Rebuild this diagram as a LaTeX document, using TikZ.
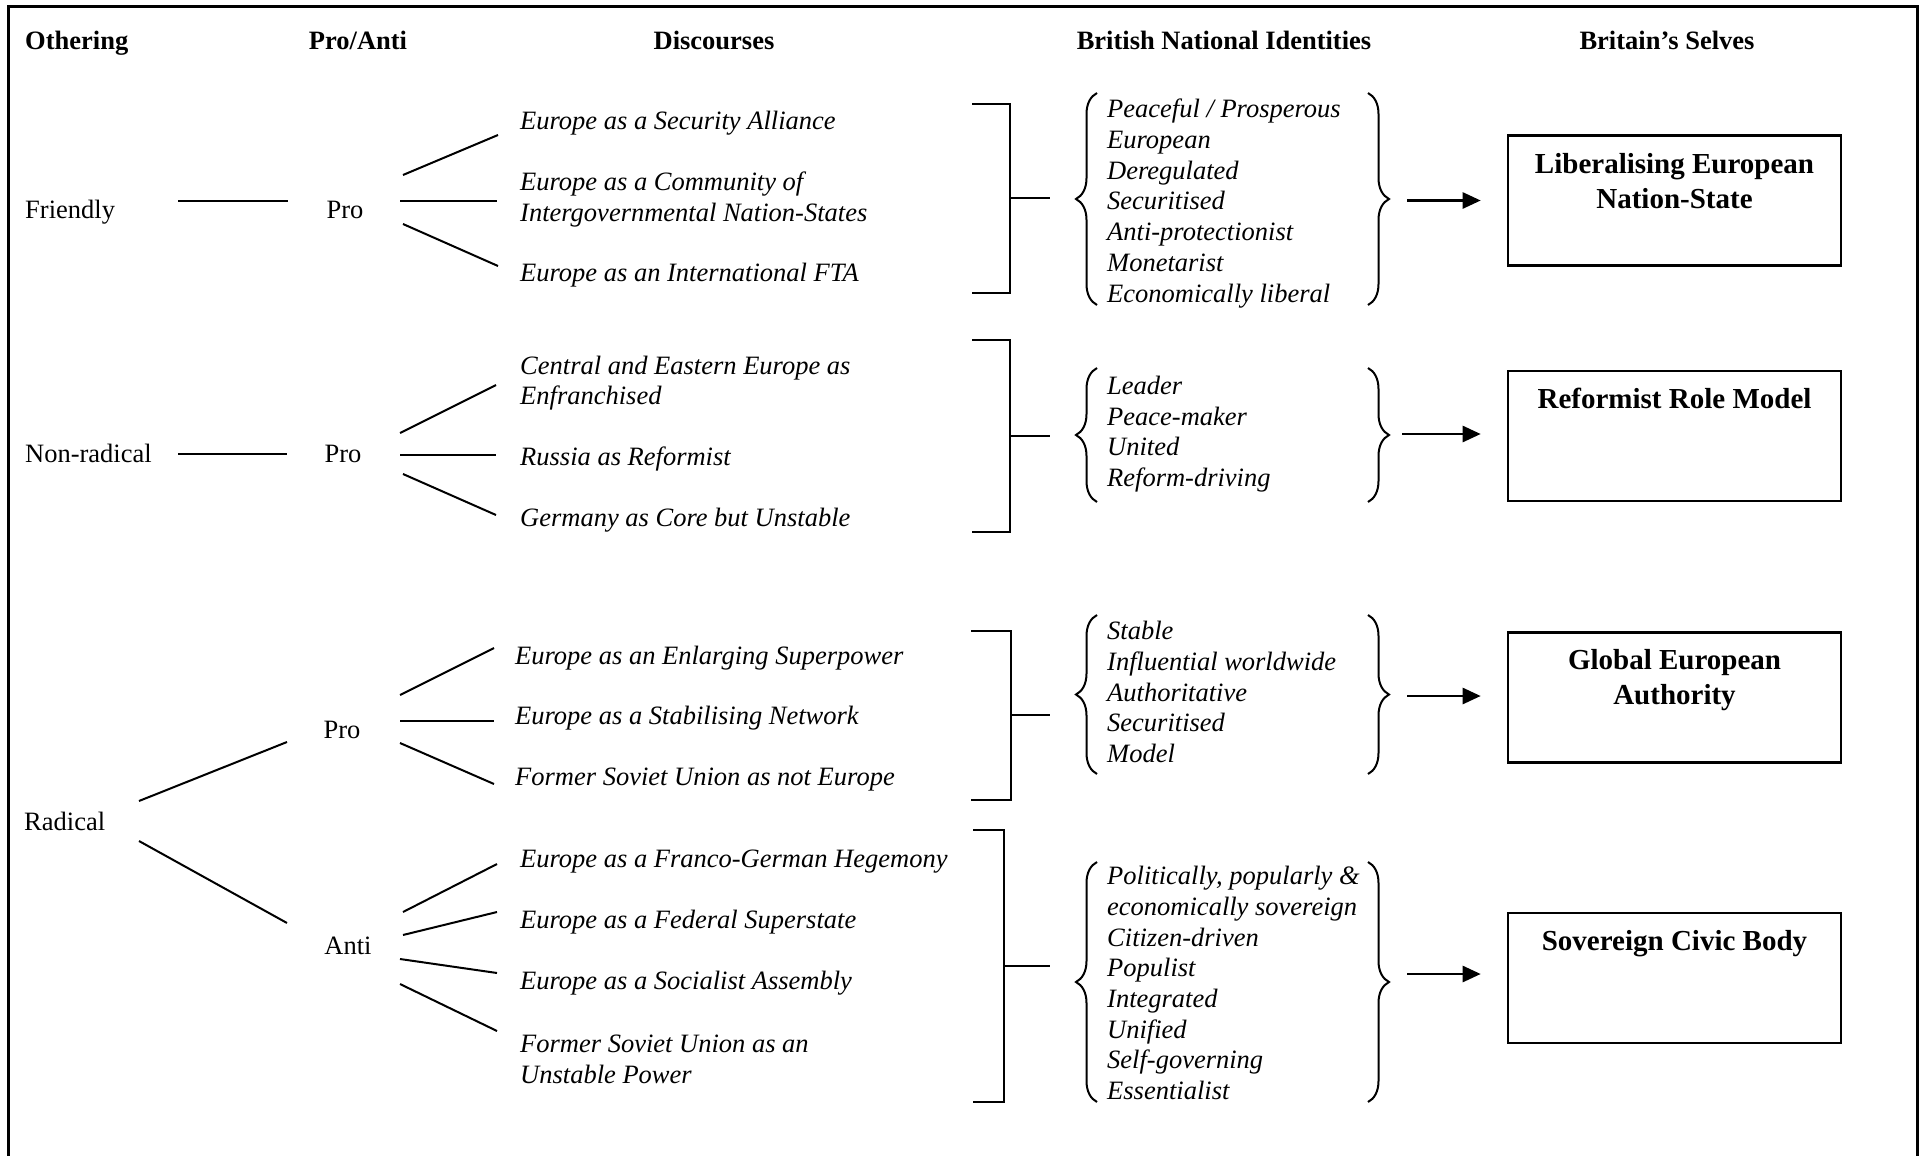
\documentclass[tikz,border=0pt]{standalone}
\usepackage{fontspec}
\setmainfont{Liberation Serif}
\usetikzlibrary{arrows.meta,decorations.pathreplacing}
\newcommand\txtsize{\fontsize{26.5pt}{30.7pt}\selectfont}
\newcommand\selfsize{\fontsize{29pt}{35pt}\selectfont}
\begin{document}
\begin{tikzpicture}[x=1pt,y=-1pt,
  frame/.style={line width=3pt},
  hdr/.style={font=\bfseries\txtsize, inner sep=0},
  lbl/.style={font=\txtsize, inner sep=0},
  disc/.style={font=\itshape\txtsize, inner sep=0, anchor=west, align=left},
  idl/.style={font=\itshape\txtsize, inner sep=0, anchor=west, align=left},
  selfbox/.style={draw, line width=2.6pt, minimum width=333pt, minimum height=130pt, inner sep=0},
  selftext/.style={font=\bfseries\selfsize, inner sep=0, anchor=north, align=center},
  link/.style={line width=2pt},
  bracket/.style={line width=2.3pt},
  cbrace/.style={decorate, decoration={brace, amplitude=21pt}, line width=2pt},
  arr/.style={line width=2.6pt, -{Triangle[length=18pt,width=16pt]}, shorten >=26pt}]
\useasboundingbox (0,0) rectangle (1927,1156);
\clip (0,0) rectangle (1927,1156);

% outer frame (open at the bottom)
\draw[frame] (8,1170) -- (8,7) -- (1917,7) -- (1917,1170);

% column headings
\node[hdr, anchor=base west] (h1) at (25,49.5) {Othering};
\node[hdr, anchor=base] (h2) at (358,49.5) {Pro/Anti};
\node[hdr, anchor=base] (h3) at (714,49.5) {Discourses};
\node[hdr, anchor=base] (h4) at (1224,49.5) {British National Identities};
\node[hdr, anchor=base] (h5) at (1667,49.5) {Britain’s Selves};

% othering and pro/anti labels
\node[lbl, anchor=base west] (o1) at (25,218.5) {Friendly};
\node[lbl, anchor=base] (p1) at (345,218.5) {Pro};
\node[lbl, anchor=base west] (o2) at (25,462) {Non-radical};
\node[lbl, anchor=base] (p2) at (343,462) {Pro};
\node[lbl, anchor=base west] (o3) at (24,830) {Radical};
\node[lbl, anchor=base] (p3) at (342,738) {Pro};
\node[lbl, anchor=base] (a3) at (348,954) {Anti};

% discourses
\node[disc] (d11) at (520,123.5) {Europe as a Security Alliance};
\node[disc] (d12) at (520,199.5) {Europe as a Community of\\Intergovernmental Nation-States};
\node[disc] (d13) at (520,275.5) {Europe as an International FTA};
\node[disc] (d21) at (520,383) {Central and Eastern Europe as\\Enfranchised};
\node[disc] (d22) at (520,458.5) {Russia as Reformist};
\node[disc] (d23) at (520,520.5) {Germany as Core but Unstable};
\node[disc] (d31) at (515,658.5) {Europe as an Enlarging Superpower};
\node[disc] (d32) at (515,718.5) {Europe as a Stabilising Network};
\node[disc] (d33) at (515,780) {Former Soviet Union as not Europe};
\node[disc] (d41) at (520,862) {Europe as a Franco-German Hegemony};
\node[disc] (d42) at (520,922.5) {Europe as a Federal Superstate};
\node[disc] (d43) at (520,983.5) {Europe as a Socialist Assembly};
\node[disc] (d44) at (520,1059.5) {Former Soviet Union as an\\Unstable Power};

% branch lines
\foreach \n/\ax/\ay/\bx/\by in {
  fa/178/201/288/201, fb/403/175/498/135, fc/400/201/497/201, fd/403/224/498/266,
  na/178/454/287/454, nb/400/433/496/385, nc/400/455/496/455, nd/403/474/496/515,
  ra/139/801/287/742, rb/139/841/287/923,
  pa/400/695/494/648, pb/400/721/494/721, pc/400/743/494/784,
  aa/403/912/497/864, ab/403/935/497/912, ac/400/959/497/973, ad/400/984/497/1031}
{
  \coordinate (\n-s) at (\ax,\ay);
  \coordinate (\n-e) at (\bx,\by);
  \draw[link] (\n-s) -- (\n-e);
}

% square brackets gathering each group of discourses
\draw[bracket] (972,104) -- (1010,104) -- (1010,293) -- (972,293);
\draw[bracket] (1010,198) -- (1050,198);
\draw[bracket] (972,340) -- (1010,340) -- (1010,532) -- (972,532);
\draw[bracket] (1010,436) -- (1050,436);
\draw[bracket] (971,631) -- (1011,631) -- (1011,800) -- (971,800);
\draw[bracket] (1011,715) -- (1050,715);
\draw[bracket] (973,830) -- (1004,830) -- (1004,1102) -- (973,1102);
\draw[bracket] (1004,966) -- (1050,966);

% identity lists
\node[idl] (i1) at (1107,203.5) {Peaceful / Prosperous\\European\\Deregulated\\Securitised\\Anti-protectionist\\Monetarist\\Economically liberal};
\node[idl] (i2) at (1107,434) {Leader\\Peace-maker\\United\\Reform-driving};
\node[idl] (i3) at (1107,692) {Stable\\Influential worldwide\\Authoritative\\Securitised\\Model};
\node[idl] (i4) at (1107,983) {Politically, popularly \&\\economically sovereign\\Citizen-driven\\Populist\\Integrated\\Unified\\Self-governing\\Essentialist};

% curly braces around the lists
\draw[cbrace] (1097,305) -- (1097,93);
\draw[cbrace] (1368,93) -- (1368,305);
\draw[cbrace] (1097,502) -- (1097,368);
\draw[cbrace] (1368,368) -- (1368,502);
\draw[cbrace] (1097,774) -- (1097,615);
\draw[cbrace] (1368,615) -- (1368,774);
\draw[cbrace] (1097,1102) -- (1097,862);
\draw[cbrace] (1368,862) -- (1368,1102);

% selves
\node[selfbox] (s1) at (1674.5,200.5) {};
\node[selfbox] (s2) at (1674.5,436) {};
\node[selfbox] (s3) at (1674.5,697.5) {};
\node[selfbox] (s4) at (1674.5,978) {};
\node[selftext] (s1t) at ([yshift=-18.5pt]s1.north) {Liberalising European\\Nation-State};
\node[selftext] (s2t) at ([yshift=-18.5pt]s2.north) {Reformist Role Model};
\node[selftext] (s3t) at ([yshift=-17.5pt]s3.north) {Global European\\Authority};
\node[selftext] (s4t) at ([yshift=-18.5pt]s4.north) {Sovereign Civic Body};

% arrows from identities to selves
\coordinate (r1) at (1407,200.5);
\coordinate (r2) at (1402,434);
\coordinate (r3) at (1407,696);
\coordinate (r4) at (1407,974);
\draw[arr] (r1) -- (s1.west |- r1);
\draw[arr] (r2) -- (s2.west |- r2);
\draw[arr] (r3) -- (s3.west |- r3);
\draw[arr] (r4) -- (s4.west |- r4);
\end{tikzpicture}
\end{document}
